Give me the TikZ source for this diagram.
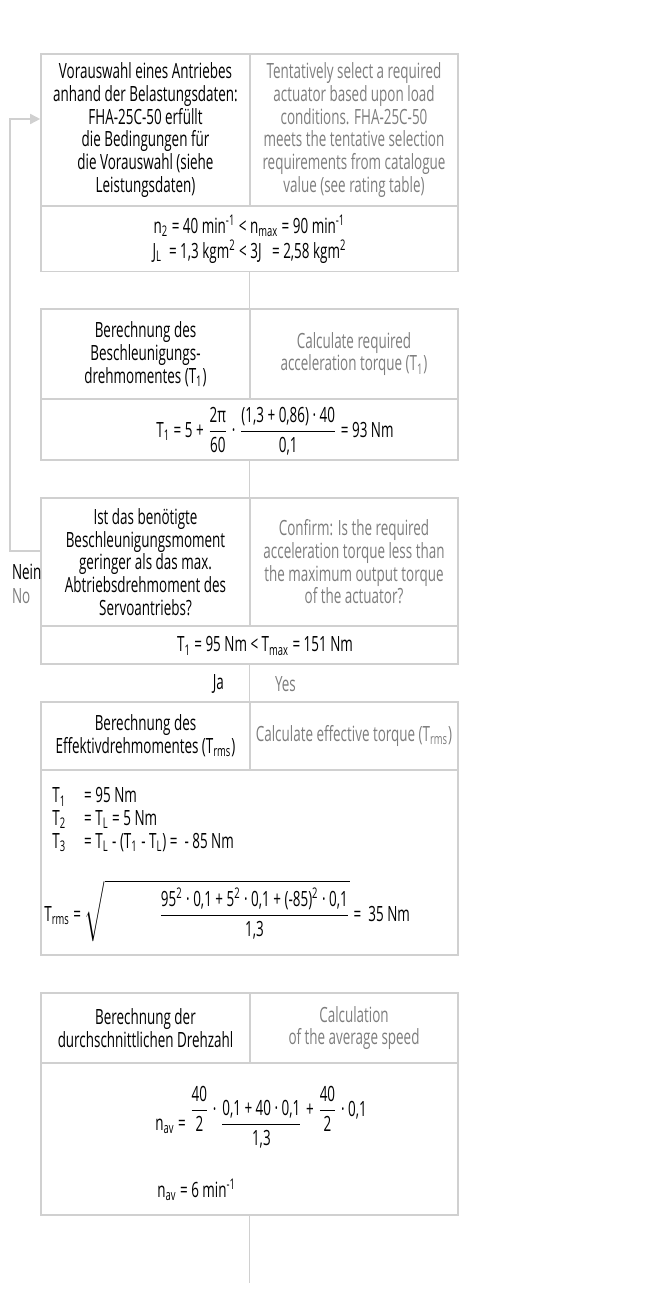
\documentclass[tikz,border=0pt]{standalone}
\usepackage{fontspec}
\setmainfont[FakeStretch=0.64]{Open Sans}
\usetikzlibrary{arrows.meta}
\newcommand\tx[1]{\mbox{#1}}
\newcommand\sub[1]{\textsubscript{#1}}
\newcommand\spr[1]{\textsuperscript{#1}}

\begin{document}
\begin{tikzpicture}[x=0.5pt,y=-0.5pt,
    font=\fontsize{10.5}{11.35}\selectfont,
    cell/.style={draw=linegray, line width=0.8pt, inner sep=0pt, align=center},
    lcell/.style={cell, minimum width=104.5pt},
    rcell/.style={cell, minimum width=104pt, text=engray},
    body/.style={cell, minimum width=208.5pt},
    link/.style={draw=linegray, line width=0.8pt},
    back/.style={link, -{Triangle[length=5pt,width=5pt]}}]
    \definecolor{linegray}{RGB}{208,208,208}
    \definecolor{engray}{RGB}{125,125,125}
    \useasboundingbox (0,0) rectangle (664,1304);

    % Vorauswahl
    \node[lcell, minimum height=76pt] (h1l) at (145.5,130) {Vorauswahl eines Antriebes\\anhand der Belastungsdaten:\\FHA-25C-50 erfüllt\\die Bedingungen für\\die Vorauswahl (siehe\\Leistungsdaten)};
    \node[rcell, minimum height=76pt] (h1r) at (354,130) {Tentatively select a required\\actuator based upon load\\conditions. FHA-25C-50\\meets the tentative selection\\requirements from catalogue\\value (see rating table)};
    \node[body, minimum height=32.5pt, font=\fontsize{10.5}{12.5}\selectfont] (b1) at (249.5,239) {n\sub{2} = 40 min\spr{-1} < n\sub{max} = 90 min\spr{-1}\\J\sub{L} \ = 1,3 kgm\spr{2} < 3J \ \ = 2,58 kgm\spr{2}};

    % Beschleunigungsdrehmoment
    \node[lcell, minimum height=45pt] (h2l) at (145.5,354) {Berechnung des\\Beschleunigungs-\\drehmomentes (T\sub{1})};
    \node[rcell, minimum height=45pt] (h2r) at (354,354) {Calculate required\\acceleration torque (T\sub{1})};
    \node[body, minimum height=30.5pt] (b2) at (249.5,429.5) {};
    \node (f2) at (275,431) {$\displaystyle\tx{T\sub{1} = 5 + }\frac{\tx{2π}}{\tx{60}}\tx{ · }\frac{\tx{(1,3 + 0,86) · 40}}{\tx{0,1}}\tx{ = 93 Nm}$};

    % Abfrage
    \node[lcell, minimum height=64pt] (h3l) at (145.5,562) {Ist das benötigte\\Beschleunigungsmoment\\geringer als das max.\\Abtriebsdrehmoment des\\Servoantriebs?};
    \node[rcell, minimum height=64pt] (h3r) at (354,562) {Confirm: Is the required\\acceleration torque less than\\the maximum output torque\\of the actuator?};
    \node[body, minimum height=19pt] (b3) at (249.5,645) {};
    \node (f3) at (265,646) {T\sub{1} = 95 Nm < T\sub{max} = 151 Nm};
    \node[anchor=east] (ja) at (231,684) {Ja};
    \node[anchor=west, text=engray] (yes) at (268,684) {Yes};
    \node[anchor=west] (nein) at (5,572) {Nein};
    \node[anchor=west, text=engray] (no) at (5,596) {No};

    % Effektivdrehmoment
    \node[lcell, minimum height=34pt] (h4l) at (145.5,736) {Berechnung des\\Effektivdrehmomentes (T\sub{rms})};
    \node[rcell, minimum height=34pt] (h4r) at (354,736) {Calculate effective torque (T\sub{rms})};
    \node[body, minimum height=92.5pt] (b4) at (249.5,862.5) {};
    \node[anchor=west, inner sep=0pt] (f4a) at (52,821) {\begin{tabular}{@{}l@{\hspace{9pt}}l@{}}
        T\sub{1} & = 95 Nm\\
        T\sub{2} & = T\sub{L} = 5 Nm\\
        T\sub{3} & = T\sub{L} - (T\sub{1} - T\sub{L}) = \ - 85 Nm
      \end{tabular}};
    \node[anchor=west, inner sep=0pt] (f4b) at (44,911) {$\displaystyle\tx{T\sub{rms} = }\sqrt{\hspace{27pt}\frac{\tx{95\spr{2} · 0,1 + 5\spr{2} · 0,1 + (-85)\spr{2} · 0,1}}{\tx{1,3}}}\tx{ = \ 35 Nm}$};

    % Drehzahl
    \node[lcell, minimum height=35pt] (h5l) at (145.5,1028) {Berechnung der\\durchschnittlichen Drehzahl};
    \node[rcell, minimum height=35pt] (h5r) at (354,1028) {Calculation\\of the average speed};
    \node[body, minimum height=76pt] (b5) at (249.5,1139) {};
    \node[anchor=west, inner sep=0pt] (f5a) at (155,1117) {$\displaystyle\tx{n\sub{av} = }\raisebox{7pt}{$\displaystyle\frac{\tx{40}}{\tx{2}}\tx{ · }$}\frac{\tx{0,1 + 40 · 0,1}}{\tx{1,3}}\raisebox{7pt}{$\displaystyle\tx{ + }\frac{\tx{40}}{\tx{2}}\tx{ · 0,1}$}$};
    \node[anchor=west, inner sep=0pt] (f5b) at (157,1190) {n\sub{av} = 6 min\spr{-1}};
    \coordinate (tail) at (249.5,1283);

    % Verbindungen
    \draw[link] (b1.south) -- (b1.south |- h2r.north);
    \draw[link] (b2.south) -- (b2.south |- h3r.north);
    \draw[link] (b3.south) -- (b3.south |- h4r.north);
    \draw[link] (b5.south) -- (tail);
    \draw[back] ([yshift=5.5pt]h3l.west) -- ++(-30,0) |- ([yshift=5.5pt]h1l.west);
\end{tikzpicture}
\end{document}
